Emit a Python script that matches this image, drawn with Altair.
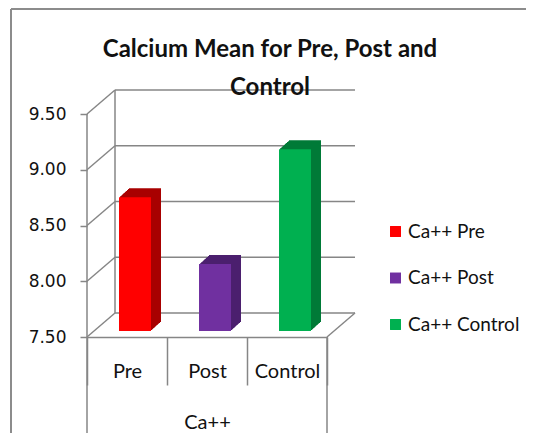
import altair as alt
import pandas as pd

# ---- data ----
categories = ["Pre", "Post", "Control"]
series = ["Ca++ Pre", "Ca++ Post", "Ca++ Control"]
values = [8.70, 8.10, 9.13]
front_colors = ["#FF0000", "#7030A0", "#00B050"]
dark_colors = ["#A80000", "#4B1F6E", "#007A37"]
grid_values = [7.5, 8.0, 8.5, 9.0, 9.5]
group_label = "Ca++"
title_lines = ["Calcium  Mean for Pre, Post and", "Control"]

# ---- layout constants ----
BASE = 7.5
W, H = 268, 247
DX, DY = 28, 24
FRONT_W = W - DX
PX_PER_UNIT = (H - DY) / (grid_values[-1] - grid_values[0])
YMAX = BASE + H / PX_PER_UNIT
PAD_L, PAD_T, PAD_R, PAD_B = 79, 82, 171, 96
GRAY = "#868686"
FONT = "Lato"

bars = pd.DataFrame({"cat": categories, "series": series, "value": values, "dark": dark_colors})
grid = pd.DataFrame({"v": grid_values})
floor = pd.DataFrame({"v": [BASE]})

xscale = alt.Scale(domain=categories, range=[0, FRONT_W], paddingInner=0, paddingOuter=0)
yscale = alt.Scale(domain=[BASE, YMAX], nice=False, zero=False)

yaxis = alt.Axis(values=grid_values, format=".2f", tickSize=7, labelPadding=14,
                 domain=False, grid=False, title=None, labelFont="DejaVu Sans",
                 labelFontSize=17, labelColor="#111", tickColor=GRAY, tickWidth=1.5)
xaxis = alt.Axis(title=group_label, tickBand="extent", tickSize=48, labelPadding=-24,
                 labelAngle=0, labelFont=FONT, labelFontSize=20, labelColor="#111",
                 titleFont=FONT, titleFontSize=20, titleFontWeight="normal", titleColor="#111",
                 titlePadding=27, domainColor=GRAY, domainWidth=1.5, tickColor=GRAY, tickWidth=1.5)

# border of the chart area (top and left edges)
border_top = alt.Chart(floor).mark_rule(color="#8C8C8C", strokeWidth=2).encode(
    x=alt.value(-PAD_L + 3), x2=alt.value(W + PAD_R), y=alt.value(-PAD_T + 1))
border_left = alt.Chart(floor).mark_rule(color="#8C8C8C", strokeWidth=2).encode(
    x=alt.value(-PAD_L + 3), y=alt.value(-PAD_T + 1), y2=alt.value(H + PAD_B))

# back wall gridlines
back_h = alt.Chart(grid).mark_rule(color=GRAY, strokeWidth=1.5, yOffset=-DY).encode(
    y=alt.Y("v:Q", scale=yscale, axis=yaxis), x=alt.value(DX), x2=alt.value(W))
back_d = alt.Chart(grid).mark_rule(color=GRAY, strokeWidth=1.5, y2Offset=-DY).encode(
    y=alt.Y("v:Q", scale=yscale), y2="v:Q", x=alt.value(0), x2=alt.value(DX))
back_v = alt.Chart(floor).mark_rule(color=GRAY, strokeWidth=1.5, yOffset=-DY, y2Offset=-DY).encode(
    y=alt.Y(datum=grid_values[0], scale=yscale), y2=alt.Y2(datum=grid_values[-1]), x=alt.value(DX))
floor_d = alt.Chart(floor).mark_rule(color=GRAY, strokeWidth=1.5, y2Offset=-DY).encode(
    y=alt.Y("v:Q", scale=yscale), y2="v:Q", x=alt.value(FRONT_W), x2=alt.value(W))
front_axis = alt.Chart(floor).mark_rule(color=GRAY, strokeWidth=1.5).encode(
    y=alt.Y(datum=grid_values[0], scale=yscale), y2=alt.Y2(datum=grid_values[-1]), x=alt.value(0))
drop_l = alt.Chart(floor).mark_rule(color=GRAY, strokeWidth=1.5).encode(
    x=alt.value(0), y=alt.value(H), y2=alt.value(H + PAD_B))
drop_r = alt.Chart(floor).mark_rule(color=GRAY, strokeWidth=1.5).encode(
    x=alt.value(FRONT_W), y=alt.value(H), y2=alt.value(H + PAD_B))

# 3D extrusion of bars
layers = [border_top, border_left, back_h, back_d, back_v, floor_d]
for i in range(1, 11):
    layers.append(
        alt.Chart(bars).mark_bar(size=32, xOffset=8 + i, yOffset=-6 - 0.9 * i, y2Offset=-6 - 0.9 * i).encode(
            x=alt.X("cat:N", scale=xscale, sort=categories, axis=xaxis),
            y=alt.Y("value:Q", scale=yscale),
            y2=alt.Y2(datum=BASE),
            fill=alt.Fill("dark:N", scale=None),
        )
    )

front = alt.Chart(bars).mark_bar(size=32, xOffset=8, yOffset=-6, y2Offset=-6).encode(
    x=alt.X("cat:N", scale=xscale, sort=categories, axis=xaxis),
    y=alt.Y("value:Q", scale=yscale),
    y2=alt.Y2(datum=BASE),
    color=alt.Color("series:N", scale=alt.Scale(domain=series, range=front_colors),
                    legend=alt.Legend(title=None, orient="none", legendX=299, legendY=132,
                                      symbolType="square", symbolSize=120, symbolStrokeWidth=0,
                                      labelFont=FONT, labelFontSize=19, labelColor="#111",
                                      labelOffset=3, rowPadding=26.5)),
)
layers += [front, front_axis, drop_l, drop_r]

chart = alt.layer(*layers).properties(
    width=W, height=H,
    padding={"left": PAD_L, "top": PAD_T, "right": PAD_R, "bottom": PAD_B},
    autosize=alt.AutoSizeParams(type="none"),
    title=alt.TitleParams(text=title_lines, font=FONT, fontSize=24, fontWeight="bold",
                          color="#111", anchor="middle", dx=49, offset=0, dy=92, lineHeight=38),
).configure_view(stroke=None)

chart.save("out.html", embed_options={"renderer": "svg", "actions": False})
